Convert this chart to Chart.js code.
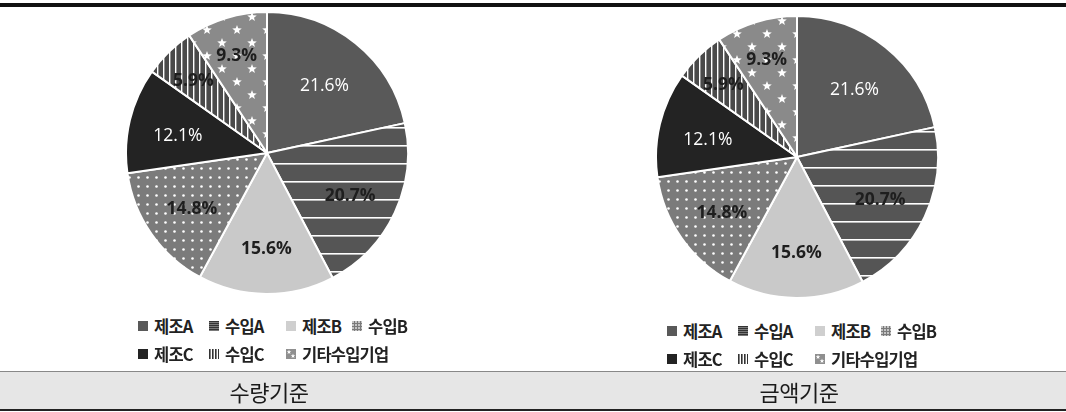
<!DOCTYPE html>
<html>
<head>
<meta charset="utf-8">
<script src="https://cdn.jsdelivr.net/npm/chart.js@4.4.1/dist/chart.umd.min.js"></script>
<style>
body { margin: 0; width: 1066px; height: 412px; background: #fff; position: relative; overflow: hidden; font-family: "Noto Sans CJK KR", sans-serif; }
.topline { position: absolute; left: 0; top: 3px; width: 1066px; height: 4px; background: #111; }
.pie { position: absolute; }
.legend { position: absolute; display: grid; grid-template-columns: 71px 77px 66px auto; row-gap: 6px; font-size: 16.5px; font-weight: bold; letter-spacing: -0.8px; color: #222; line-height: 22px; }
.legend div { display: flex; align-items: center; white-space: nowrap; }
.legend canvas { margin-right: 6px; }
.band { position: absolute; left: 0; top: 371px; width: 1066px; height: 37px; background: #e6e6e6; border-top: 1px solid #888; border-bottom: 2px solid #222; }
.band span { position: absolute; top: 3px; font-size: 22px; letter-spacing: -0.5px; color: #1a1a1a; transform: translateX(-50%); }
</style>
</head>
<body>
<div class="topline"></div>
<canvas id="pieVolume" class="pie" width="284" height="284" style="left:125px;top:11px"></canvas>
<canvas id="pieValue" class="pie" width="284" height="284" style="left:655px;top:15px"></canvas>
<div id="legendVolume" class="legend" style="left:138px;top:315px"></div>
<div id="legendValue" class="legend" style="left:667px;top:320px"></div>
<div class="band"><span style="left:269px">수량기준</span><span style="left:799px">금액기준</span></div>

<script>
const categories = ['제조A', '수입A', '제조B', '수입B', '제조C', '수입C', '기타수입기업'];
const volumeShare = [21.6, 20.7, 15.6, 14.8, 12.1, 5.9, 9.3];
const valueShare = [21.6, 20.7, 15.6, 14.8, 12.1, 5.9, 9.3];

function makePattern(w, h, bg, draw) {
    const c = document.createElement('canvas');
    c.width = w; c.height = h;
    const g = c.getContext('2d');
    g.fillStyle = bg;
    g.fillRect(0, 0, w, h);
    g.fillStyle = '#fff';
    draw(g);
    return g.createPattern(c, 'repeat');
}

function star(g, cx, cy, r) {
    g.beginPath();
    for (let i = 0; i < 10; i++) {
        const rad = i % 2 ? r * 0.42 : r;
        const a = -Math.PI / 2 + i * Math.PI / 5;
        g.lineTo(cx + rad * Math.cos(a), cy + rad * Math.sin(a));
    }
    g.closePath();
    g.fill();
}

const hLines = makePattern(18, 18, '#555', g => { g.fillRect(0, 8, 18, 1.6); });
const dots = makePattern(9, 9, '#7b7b7b', g => { g.beginPath(); g.arc(4.5, 4.5, 1.3, 0, Math.PI * 2); g.fill(); });
const vLines = makePattern(6, 6, '#4a4a4a', g => { g.fillRect(2, 0, 1.4, 6); });
const stars = makePattern(30, 26, '#8a8a8a', g => { star(g, 7, 6, 5); star(g, 22, 19, 5); });

const sliceFills = ['#595959', hLines, '#c9c9c9', dots, '#232323', vLines, stars];
const labelColors = ['#fff', '#1e1e1e', '#1e1e1e', '#1e1e1e', '#fff', '#1e1e1e', '#1e1e1e'];
const labelWeights = ['normal', 'bold', 'bold', 'bold', 'normal', 'bold', 'bold'];

// legend swatches, 10x10
const iconFills = [
    '#595959',
    makePattern(10, 2, '#333', g => { g.fillStyle = '#999'; g.fillRect(0, 1, 10, 0.7); }),
    '#cfcfcf',
    makePattern(3, 3, '#c4c4c4', g => { g.fillStyle = '#7a7a7a'; g.fillRect(2, 0, 1, 3); g.fillRect(0, 2, 3, 1); }),
    '#232323',
    makePattern(3, 10, '#fff', g => { g.fillStyle = '#333'; g.fillRect(0, 0, 1.6, 10); }),
    makePattern(10, 10, '#8f8f8f', g => { star(g, 3, 3, 2.4); star(g, 7, 7, 2.4); })
];

const sliceLabels = {
    id: 'sliceLabels',
    afterDatasetsDraw(chart) {
        const ctx = chart.ctx;
        const meta = chart.getDatasetMeta(0);
        const values = chart.data.datasets[0].data;
        ctx.save();
        ctx.textAlign = 'center';
        ctx.textBaseline = 'middle';
        meta.data.forEach((arc, i) => {
            const p = arc.getProps(['x', 'y', 'startAngle', 'endAngle', 'outerRadius'], true);
            const mid = (p.startAngle + p.endAngle) / 2;
            const r = p.outerRadius * (values[i] < 10 ? 0.75 : 0.65);
            ctx.font = labelWeights[i] + ' 17.5px "Open Sans", sans-serif';
            ctx.fillStyle = labelColors[i];
            ctx.fillText(values[i].toFixed(1) + '%', p.x + Math.cos(mid) * r, p.y + Math.sin(mid) * r + 4);
        });
        ctx.restore();
    }
};

function drawPie(id, values) {
    new Chart(document.getElementById(id), {
        type: 'pie',
        data: {
            labels: categories,
            datasets: [{ data: values, backgroundColor: sliceFills, borderColor: '#fff', borderWidth: 2 }]
        },
        options: {
            responsive: false,
            animation: false,
            layout: { padding: 0 },
            plugins: { legend: { display: false }, tooltip: { enabled: false } }
        },
        plugins: [sliceLabels]
    });
}

function drawLegend(id) {
    const box = document.getElementById(id);
    categories.forEach((c, i) => {
        const item = document.createElement('div');
        const sw = document.createElement('canvas');
        sw.width = 10; sw.height = 10;
        const g = sw.getContext('2d');
        g.fillStyle = iconFills[i];
        g.fillRect(0, 0, 10, 10);
        item.appendChild(sw);
        item.appendChild(document.createTextNode(c));
        box.appendChild(item);
    });
}

drawPie('pieVolume', volumeShare);
drawPie('pieValue', valueShare);
drawLegend('legendVolume');
drawLegend('legendValue');
</script>
</body>
</html>
